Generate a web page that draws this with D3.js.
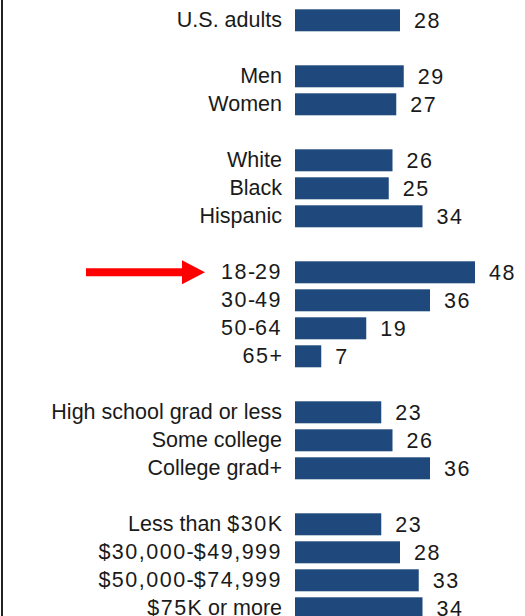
<!DOCTYPE html>
<html>
<head>
<meta charset="utf-8">
<script src="https://cdn.jsdelivr.net/npm/d3@7"></script>
<style>
  body { margin: 0; background: #fff; }
  svg { display: block; }
</style>
</head>
<body>
<svg id="chart" width="525" height="616"></svg>
<script>
// groups separated by an empty row
const groups = [
    ["U.S. adults"],
    ["Men", "Women"],
    ["White", "Black", "Hispanic"],
    ["18-29", "30-49", "50-64", "65+"],
    ["High school grad or less", "Some college", "College grad+"],
    ["Less than $30K", "$30,000-$49,999", "$50,000-$74,999", "$75K or more"]
];
const values = [
    [28],
    [29, 27],
    [26, 25, 34],
    [48, 36, 19, 7],
    [23, 26, 36],
    [23, 28, 33, 34]
];
const highlighted = "18-29";

const svg = d3.select("#chart");

// build rows with blank spacer slots between groups
const rows = [];
groups.forEach((g, gi) => {
    if (gi > 0) rows.push({ key: "gap" + gi, label: null, value: null });
    g.forEach((c, i) => rows.push({ key: c, label: c, value: values[gi][i] }));
});
const data = rows.filter(r => r.label !== null);

const y = d3.scaleBand()
    .domain(rows.map(r => r.key))
    .range([6.3, 622.3])
    .paddingInner(6 / 28)
    .paddingOuter(3 / 28);

const x = d3.scaleLinear()
    .domain([0, 48])
    .range([295, 475]);

// digits in the original font run wider than Arial's, widen them a bit
function fillText(sel, str) {
    const parts = String(str).match(/[0-9$,]+|[^0-9$,]+/g);
    parts.forEach(p => {
        const t = sel.append("tspan").text(p);
        if (/^[0-9$,]/.test(p)) t.attr("letter-spacing", 1.5);
    });
}

// left frame line
svg.append("line")
    .attr("x1", 2).attr("x2", 2)
    .attr("y1", 0).attr("y2", 616)
    .attr("stroke", "#222")
    .attr("stroke-width", 2);

svg.selectAll("rect.bar")
    .data(data)
    .enter()
    .append("rect")
    .attr("class", "bar")
    .attr("x", x(0))
    .attr("y", d => y(d.key))
    .attr("width", d => x(d.value) - x(0))
    .attr("height", y.bandwidth())
    .attr("fill", "#1f497d");

svg.selectAll("text.cat")
    .data(data)
    .enter()
    .append("text")
    .attr("class", "cat")
    .attr("x", 282)
    .attr("y", d => y(d.key) + y.bandwidth() / 2)
    .attr("dy", "0.3em")
    .attr("text-anchor", "end")
    .attr("font-family", "Liberation Sans, Arial, sans-serif")
    .attr("font-size", 21.5)
    .attr("fill", "#1a1a1a")
    .each(function(d) { fillText(d3.select(this), d.label); });

svg.selectAll("text.val")
    .data(data)
    .enter()
    .append("text")
    .attr("class", "val")
    .attr("x", d => x(d.value) + 14)
    .attr("y", d => y(d.key) + y.bandwidth() / 2)
    .attr("dy", "0.34em")
    .attr("font-family", "Liberation Sans, Arial, sans-serif")
    .attr("font-size", 21.5)
    .attr("fill", "#1a1a1a")
    .each(function(d) { fillText(d3.select(this), d.value); });

// red arrow pointing at the highlighted row
const ay = y(highlighted) + y.bandwidth() / 2;
svg.append("line")
    .attr("x1", 86).attr("x2", 184)
    .attr("y1", ay).attr("y2", ay)
    .attr("stroke", "#f00")
    .attr("stroke-width", 8);
svg.append("path")
    .attr("d", d3.line()([[182, ay - 12], [205, ay], [182, ay + 12]]) + "Z")
    .attr("fill", "#f00");
</script>
</body>
</html>
